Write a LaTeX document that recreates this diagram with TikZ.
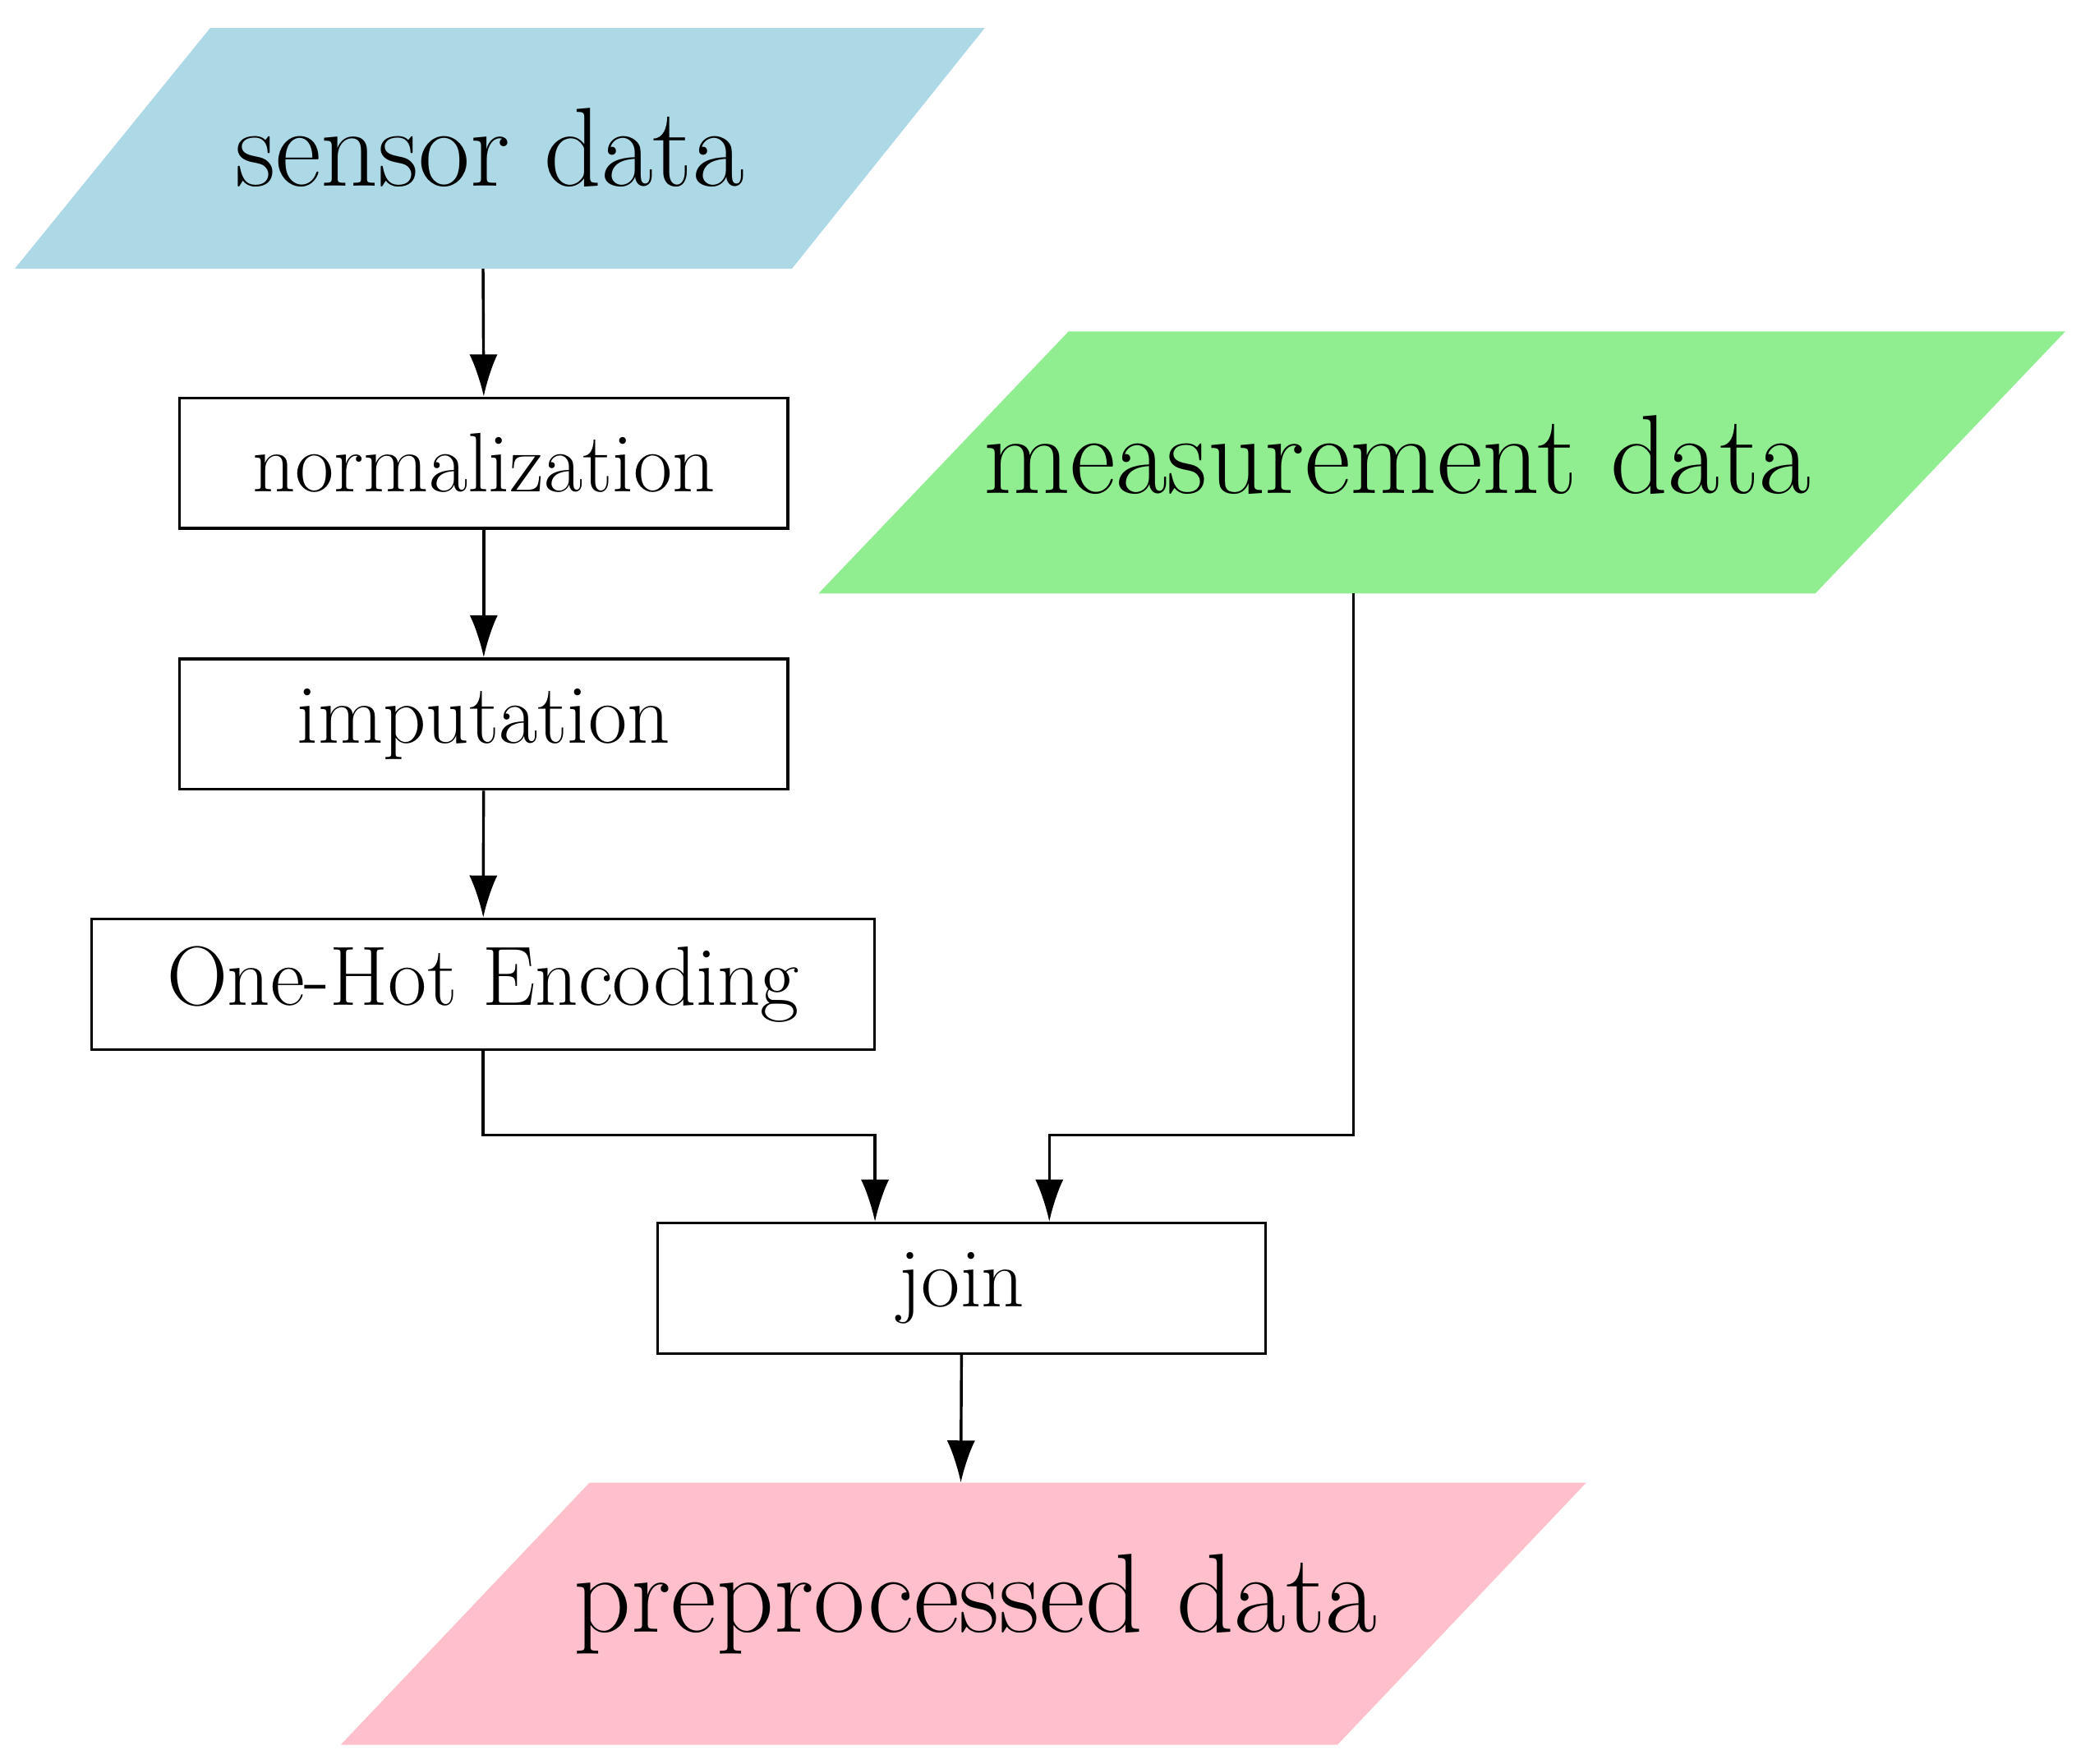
\documentclass[tikz,border=0pt]{standalone}
\usetikzlibrary{arrows.meta}
\definecolor{lblue}{RGB}{173,216,230}
\definecolor{lgreen}{RGB}{144,238,144}
\definecolor{lpink}{RGB}{255,192,203}
\begin{document}
\begin{tikzpicture}[x=0.01cm,y=-0.01cm,
  box/.style={draw,line width=0.6pt,minimum width=457*0.01cm,minimum height=98*0.01cm,inner sep=0pt,font=\fontsize{18}{20}\selectfont},
  io/.style={inner sep=0pt,font=\fontsize{24}{26}\selectfont},
  arr/.style={-{Latex[length=9pt,width=6pt]},line width=0.6pt}]
\useasboundingbox (0,0) rectangle (1560,1325);
% parallelograms
\fill[lblue] (158,21) -- (740,21) -- (595,202) -- (11,202) -- cycle;
\fill[lgreen] (803,249) -- (1552,249) -- (1364,446) -- (615,446) -- cycle;
\fill[lpink] (443,1114) -- (1192,1114) -- (1005,1311) -- (256,1311) -- cycle;
\node[io] (sensor) at (368,111) {sensor data};
\node[io] (meas) at (1050,342) {measurement data};
\node[io] (pre) at (733,1205) {preprocessed data};
\coordinate (sensorS) at (363,202);
\coordinate (measS) at (1017,446);
\coordinate (preN) at (722,1114);
\node[box] (norm) at (363.5,348) {normalization};
\node[box] (imp) at (363.5,544) {imputation};
\node[box,minimum width=588*0.01cm] (ohe) at (363,739.5) {One-Hot Encoding};
\node[box] (join) at (722.5,968) {join};
\draw[arr] (sensorS) -- (norm.north);
\draw[arr] (norm) -- (imp);
\draw[arr] (imp) -- (ohe);
\draw[arr] (ohe.south) -- (363,853) -| ([xshift=-65*0.01cm]join.north);
\draw[arr] (measS) -- (1017,853) -| ([xshift=66*0.01cm]join.north);
\draw[arr] (join.south) -- (preN);
\end{tikzpicture}
\end{document}
